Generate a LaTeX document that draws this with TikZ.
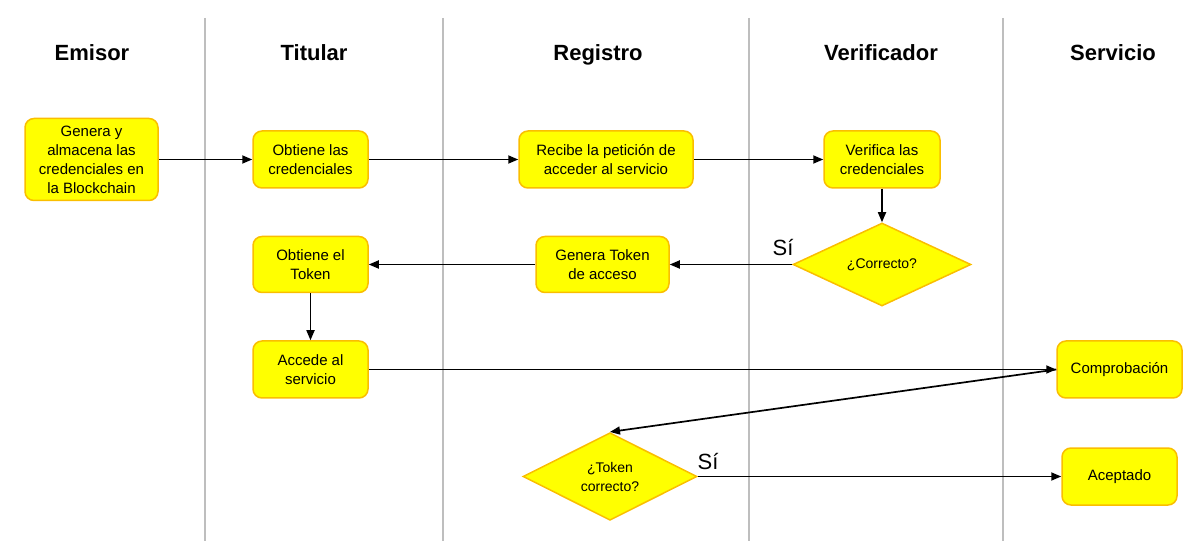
\documentclass[tikz,border=0pt]{standalone}
\usepackage{fontspec}
\setmainfont{Liberation Sans}
\usetikzlibrary{shapes.geometric,arrows.meta}

\definecolor{boxfill}{RGB}{255,255,0}
\definecolor{boxline}{RGB}{250,190,0}
\definecolor{laneline}{RGB}{190,190,190}

\tikzset{
  lanehead/.style={font=\fontsize{22}{26}\selectfont\bfseries,
    text height=16pt, text depth=3pt},
  proc/.style={draw=boxline, fill=boxfill, line width=1.5pt, rounded corners=9pt,
    align=center, inner sep=0pt, font=\fontsize{15}{19}\selectfont},
  decision/.style={draw=boxline, fill=boxfill, line width=1.5pt, diamond,
    align=center, inner sep=0pt, minimum width=176pt, minimum height=83pt,
    font=\fontsize{14}{19}\selectfont},
  arr/.style={-{Triangle[length=10pt,width=8pt]}, line width=1.7pt},
  yes/.style={font=\fontsize{22}{26}\selectfont, inner sep=2pt},
}

\begin{document}
\begin{tikzpicture}[x=1pt,y=-1pt]
\useasboundingbox (0,0) rectangle (1203,553);

% lanes
\foreach \lx in {205,443,749,1003}
  \draw[laneline, line width=2pt] (\lx,18) -- (\lx,541);
\node (hem) [lanehead] at (92,54) {Emisor};
\node (hti) [lanehead] at (314,54) {Titular};
\node (hre) [lanehead] at (598,54) {Registro};
\node (hve) [lanehead] at (881,54) {Verificador};
\node (hse) [lanehead] at (1113,54) {Servicio};

% steps
\node (gen) [proc, minimum width=133pt, minimum height=82pt] at (91.5,159.5)
  {Genera y\\almacena las\\credenciales en\\la Blockchain};
\node (obt) [proc, minimum width=115pt, minimum height=57pt] at (310.5,159.5)
  {Obtiene las\\credenciales};
\node (rec) [proc, minimum width=174pt, minimum height=57pt] at (606,159.5)
  {Recibe la petición de\\acceder al servicio};
\node (ver) [proc, minimum width=116pt, minimum height=57pt] at (882,159.5)
  {Verifica las\\credenciales};
\node (corr) [decision, minimum width=178pt] at (882,264.5) {¿Correcto?};
\node (gtk) [proc, minimum width=133pt, minimum height=56pt] at (602.5,264.5)
  {Genera Token\\de acceso};
\node (otk) [proc, minimum width=115pt, minimum height=56pt] at (310.5,264.5)
  {Obtiene el\\Token};
\node (acc) [proc, minimum width=115pt, minimum height=57pt] at (310.5,369.5)
  {Accede al\\servicio};
\node (comp) [proc, minimum width=125pt, minimum height=57pt] at (1119.5,369.5)
  {Comprobación};
\node (tok) [decision, minimum width=174pt] at (610,476.5) {¿Token\\correcto?};
\node (acep) [proc, minimum width=115pt, minimum height=57pt] at (1119.5,476.5)
  {Aceptado};

% flow
\draw[arr] (gen) -- (obt);
\draw[arr] (obt) -- (rec);
\draw[arr] (rec) -- (ver);
\draw[arr] (ver) -- (corr);
\draw[arr] (corr.west) -- node[pos=0, above left, yes, xshift=4pt, yshift=6pt] {Sí} (gtk);
\draw[arr] (gtk) -- (otk);
\draw[arr] (otk) -- (acc);
\draw[arr] (acc) -- (comp);
\draw[arr] (comp.west) -- (tok.north);
\draw[arr] (tok.east) -- node[pos=0, above right, yes, xshift=-3pt, yshift=4pt] {Sí} (acep);
\end{tikzpicture}
\end{document}
